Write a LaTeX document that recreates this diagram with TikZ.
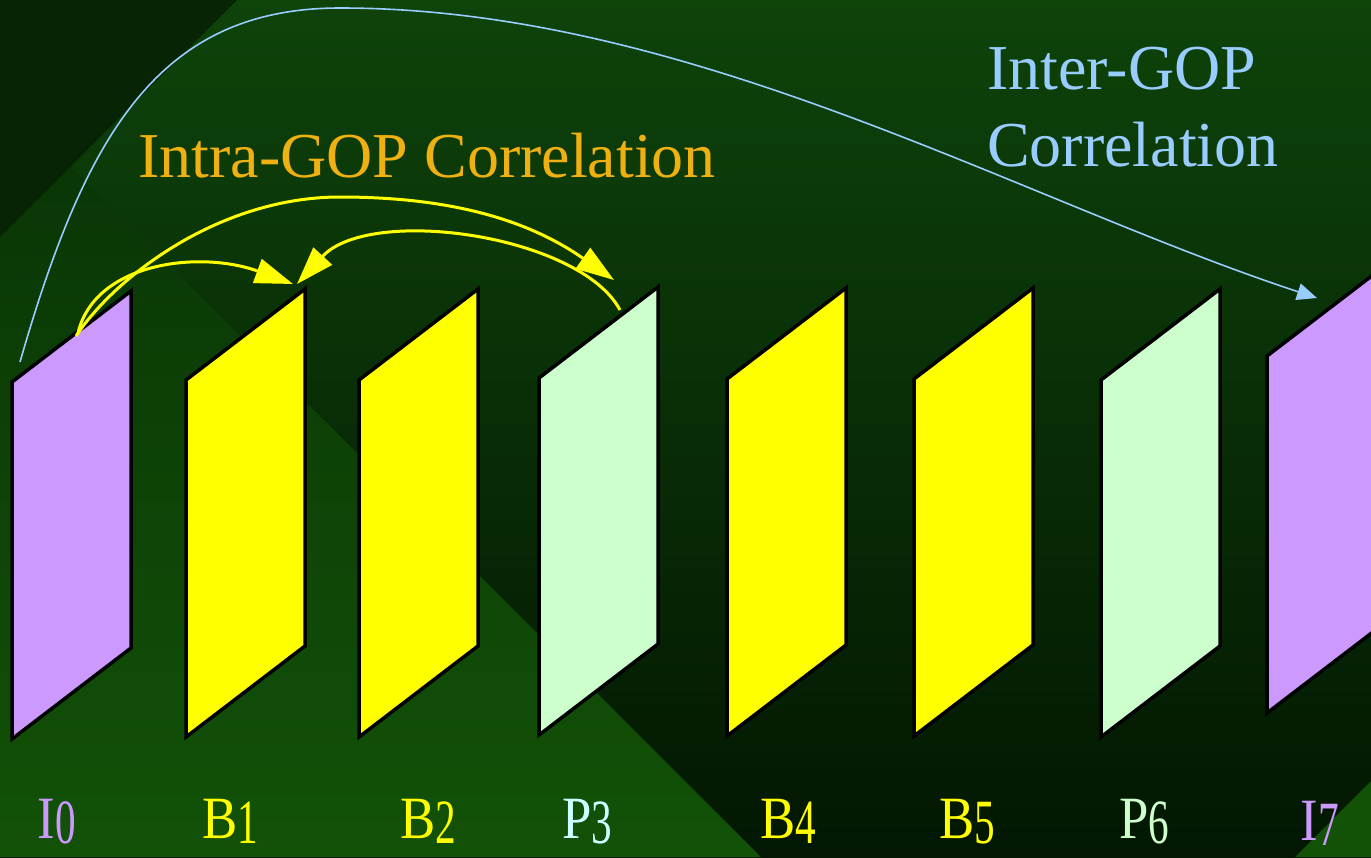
\documentclass[tikz,border=0pt]{standalone}
\usepackage{fontspec}
\setmainfont{Liberation Serif}
\usepackage{graphicx}
\usepackage{tikz}
\usetikzlibrary{arrows.meta, calc}

\definecolor{bgtop}{HTML}{0E430A}
\definecolor{bgmid}{HTML}{083005}
\definecolor{bgbot}{HTML}{031702}
\definecolor{bglightup}{HTML}{0A3606}
\definecolor{bglight}{HTML}{125207}
\definecolor{bgcorner}{HTML}{072404}
\definecolor{iframe}{HTML}{CC99FF}
\definecolor{bframe}{HTML}{FFFF00}
\definecolor{pframe}{HTML}{CCFFCC}
\definecolor{plabel}{HTML}{CCFFFF}
\definecolor{intracol}{HTML}{EEB111}
\definecolor{intercol}{HTML}{99CCFF}

\newcommand{\frlabel}[2]{\scalebox{0.88}[1]{#1\raisebox{-5pt}{\scalebox{0.78}[1.05]{#2}}}}

\begin{document}
\begin{tikzpicture}[x=1pt, y=-1pt,
    gopframe/.style={draw=black, line width=3.5pt, line join=miter},
    flab/.style={anchor=base, inner sep=0pt, font=\fontsize{60}{60}\selectfont},
    captext/.style={anchor=base west, inner sep=0pt, font=\fontsize{64}{77}\selectfont},
    intra/.style={draw=bframe, line width=3pt, -{Triangle[length=38pt,width=25pt]}},
    inter/.style={draw=intercol, line width=1.6pt, -{Triangle[length=20pt,width=17pt]}}]
    \useasboundingbox (0,0) rectangle (1371,857);

    % Background
    \shade[top color=bgtop, middle color=bgmid, bottom color=bgbot] (0,0) rectangle (1371,857);
    \shade[top color=bglightup, bottom color=bglight] (70,166) -- (761,857) -- (0,857) -- (0,237) -- cycle;
    \fill[bgcorner] (0,0) -- (237,0) -- (0,237) -- cycle;
    \fill[bglight] (1371,781) -- (1371,857) -- (1295,857) -- cycle;

    % Frames of the GOP
    \foreach \i/\fx/\fy/\fc in {0/12/382/iframe, 1/186/380/bframe, 2/359/380/bframe, 3/539/378/pframe,
                               4/727/379/bframe, 5/914/379/bframe, 6/1101/380/pframe, 7/1267/356/iframe}
    {
        \coordinate (f\i) at (\fx,\fy);
        \draw[gopframe, fill=\fc] (f\i) -- ++(119,-91) -- ++(0,357) -- ++(-119,91) -- cycle;
    }

    % Frame labels
    \foreach \i/\lx/\ly/\lc/\lt in {0/57/838/iframe/I, 1/230/838/bframe/B, 2/428/838/bframe/B, 3/587/838/plabel/P,
                                   4/788/838/bframe/B, 5/967/838/bframe/B, 6/1144/838/pframe/P, 7/1320/840/iframe/I}
        \node[flab, text=\lc] (l\i) at (\lx,\ly) {\frlabel{\lt}{\i}};

    % Captions
    \node[captext, text=intracol] (intra) at (138,177) {Intra-GOP Correlation};
    \node[captext, text=intercol, align=left] (inter) at (987,166) {Inter-GOP\\Correlation};

    % Inter-GOP arrow
    \coordinate (igs) at ($(f0)+(8,-20)$);
    \coordinate (ige) at ($(f7)+(50,-58)$);
    \coordinate (igtop) at (340,8);
    \draw[inter] (igs) .. controls +(66,-230) and +(-180,0) .. (igtop)
        .. controls +(350,0) and +(-300,-99) .. (ige);

    % Intra-GOP arrows
    \coordinate (a0) at ($(f0)+(66,-49)$);
    \coordinate (a0b) at ($(f0)+(64,-46)$);
    \coordinate (b1) at ($(f1)+(107,-96)$);
    \coordinate (b1b) at ($(f1)+(111,-96)$);
    \coordinate (p3t) at ($(f3)+(75,-98)$);
    \coordinate (p3s) at ($(f3)+(81,-68)$);
    \coordinate (iapex) at (340,197);
    \draw[intra] (a0) .. controls +(17,-71) and +(-93,-34) .. (b1);
    \draw[intra] (a0b) .. controls +(40,-60) and +(-120,0) .. (iapex)
        .. controls +(120,0) and +(-80,-56) .. (p3t);
    \draw[intra] (p3s) .. controls +(-40,-75) and +(73,-79) .. (b1b);
\end{tikzpicture}
\end{document}
